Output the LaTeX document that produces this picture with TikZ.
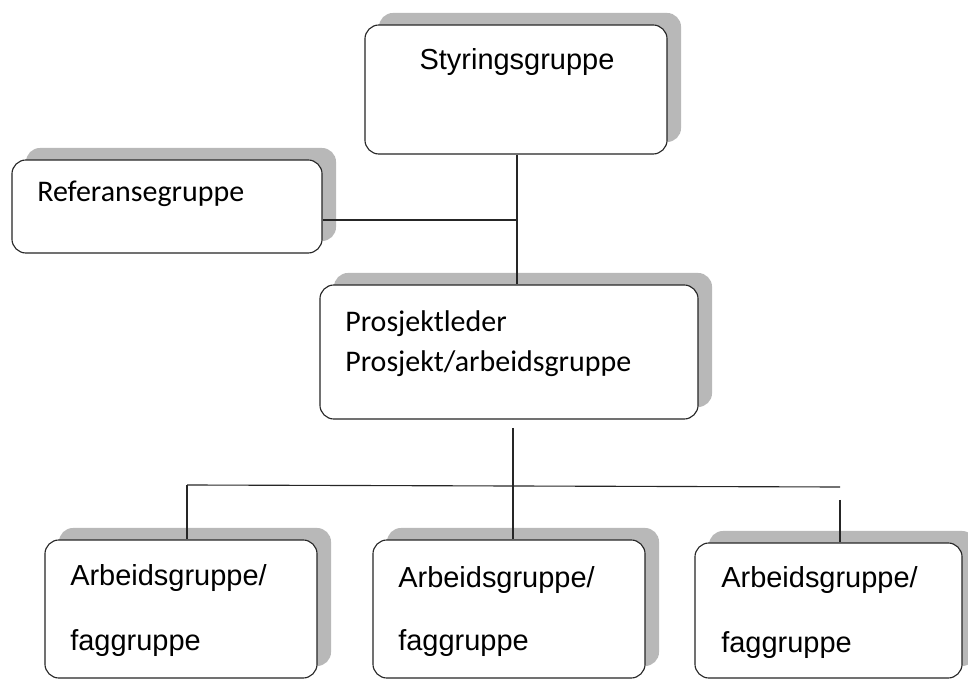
\documentclass[tikz,border=0pt]{standalone}
\usepackage{fontspec}
\usetikzlibrary{shadows}
\newfontfamily\arialfont{Liberation Sans}
\newfontfamily\calibrifont{Carlito}

\tikzset{
  box/.style={draw=black!85, line width=0.8pt, fill=white, rounded corners=0.35cm,
    inner sep=0pt,
    drop shadow={shadow xshift=0.35cm, shadow yshift=0.3cm, fill=black!28, opacity=1}},
  txta/.style={inner sep=0pt, anchor=base west, font=\arialfont\fontsize{20.6}{24}\selectfont},
  txtc/.style={inner sep=0pt, anchor=base west, font=\calibrifont\fontsize{21.3}{25}\selectfont},
  link/.style={draw=black!85, line width=0.8pt}
}

\begin{document}
\begin{tikzpicture}[x=0.025cm, y=-0.025cm]
\useasboundingbox (0,0) rectangle (968,681);

\node [box, minimum width=7.55cm, minimum height=3.225cm] (styr) at (516,89.5) {};
\node [box, minimum width=7.75cm, minimum height=2.325cm] (ref) at (167,206.5) {};
\node [box, minimum width=9.45cm, minimum height=3.35cm] (proj) at (509,352) {};
\node [box, minimum width=6.8cm, minimum height=3.45cm] (ab1) at (181,609) {};
\node [box, minimum width=6.8cm, minimum height=3.45cm] (ab2) at (509,609) {};
\node [box, minimum width=6.675cm, minimum height=3.375cm] (ab3) at (828.5,610.5) {};

\node [txta, anchor=base] (styrtxt) at (517,70) {Styringsgruppe};
\node [txtc] (reftxt) at (37,202) {Referansegruppe};
\node [txtc] (projtxt1) at (345,332) {Prosjektleder};
\node [txtc] (projtxt2) at (345,372) {Prosjekt/arbeidsgruppe};
\node [txta] (ab1txt1) at (70,586) {Arbeidsgruppe/};
\node [txta] (ab1txt2) at (70,650) {faggruppe};
\node [txta] (ab2txt1) at (398,587) {Arbeidsgruppe/};
\node [txta] (ab2txt2) at (398,650) {faggruppe};
\node [txta] (ab3txt1) at (721,587) {Arbeidsgruppe/};
\node [txta] (ab3txt2) at (721,652) {faggruppe};

\coordinate (hub) at (517,220);
\coordinate (split) at (513,428);
\coordinate (barl) at (187,485);
\coordinate (barr) at (840,487);
\coordinate (dropr) at (840,500);

\draw [link] (hub |- styr.south) -- (hub |- proj.north);
\draw [link] (ref.east |- hub) -- (hub);
\draw [link] (split) -- (split |- ab2.north);
\draw [link] (barl) -- (barr);
\draw [link] (barl) -- (barl |- ab1.north);
\draw [link] (dropr) -- (dropr |- ab3.north);
\end{tikzpicture}
\end{document}
